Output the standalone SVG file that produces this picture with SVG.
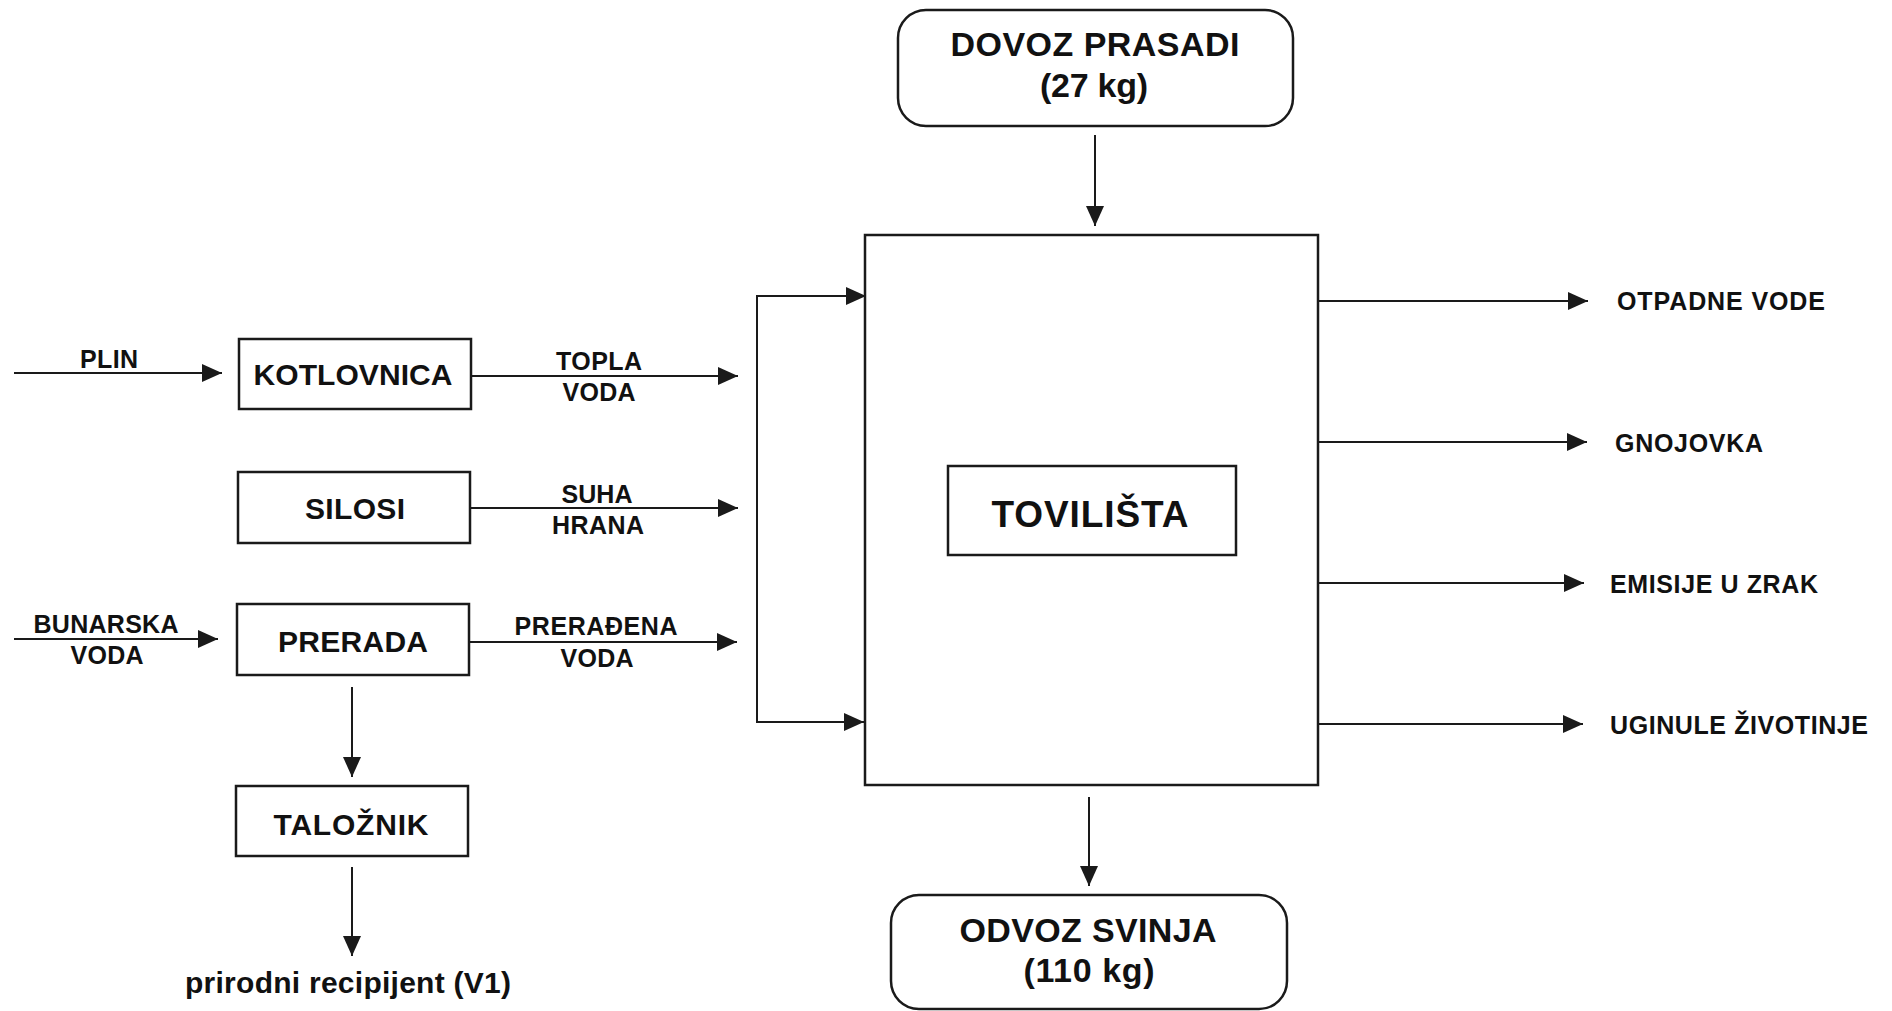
<svg xmlns="http://www.w3.org/2000/svg" width="1892" height="1011" viewBox="0 0 1892 1011">
<style>
  .box { fill: #fff; stroke: #1a1a1a; stroke-width: 2.5; }
  .ln { fill: none; stroke: #1a1a1a; stroke-width: 2; }
  .arr { fill: none; stroke: #1a1a1a; stroke-width: 2; marker-end: url(#ah); }
  text { font-family: "Liberation Sans", Arial, sans-serif; font-weight: bold; fill: #111; }
  .big { font-size: 30px; text-anchor: middle; }
  .lbl { font-size: 25px; text-anchor: middle; }
  .out { font-size: 25px; }
  .ttl { font-size: 34px; text-anchor: middle; }
</style>
<defs>
  <marker id="ah" markerUnits="userSpaceOnUse" markerWidth="20" markerHeight="18" refX="20" refY="9" orient="auto">
    <path d="M0,0 L20,9 L0,18 z" fill="#1a1a1a"/>
  </marker>
</defs>
<rect width="1892" height="1011" fill="#fff"/>

<g id="connectors">
  <line class="arr" x1="14" y1="373" x2="222" y2="373"/>
  <line class="arr" x1="14" y1="639" x2="218" y2="639"/>
  <line class="arr" x1="471" y1="376" x2="738" y2="376"/>
  <line class="arr" x1="470" y1="508" x2="738" y2="508"/>
  <line class="arr" x1="469" y1="642" x2="737" y2="642"/>
  <line class="ln" x1="757" y1="296" x2="757" y2="722"/>
  <line class="arr" x1="756" y1="296" x2="866" y2="296"/>
  <line class="arr" x1="756" y1="722" x2="864" y2="722"/>
  <line class="arr" x1="1095" y1="135" x2="1095" y2="226"/>
  <line class="arr" x1="1089" y1="797" x2="1089" y2="886"/>
  <line class="arr" x1="352" y1="687" x2="352" y2="777"/>
  <line class="arr" x1="352" y1="867" x2="352" y2="956"/>
  <line class="arr" x1="1318" y1="301" x2="1588" y2="301"/>
  <line class="arr" x1="1318" y1="442" x2="1587" y2="442"/>
  <line class="arr" x1="1318" y1="583" x2="1584" y2="583"/>
  <line class="arr" x1="1318" y1="724" x2="1583" y2="724"/>
</g>

<g id="labels">
  <text class="lbl" x="109" y="368" textLength="58">PLIN</text>
  <text class="lbl" x="106" y="633" textLength="145">BUNARSKA</text>
  <text class="lbl" x="107" y="664" textLength="73">VODA</text>
  <text class="lbl" x="599" y="370" textLength="86">TOPLA</text>
  <text class="lbl" x="599" y="401" textLength="73">VODA</text>
  <text class="lbl" x="597" y="503" textLength="71">SUHA</text>
  <text class="lbl" x="598" y="534" textLength="92">HRANA</text>
  <text class="lbl" x="596" y="635" textLength="163">PRERAĐENA</text>
  <text class="lbl" x="597" y="667" textLength="73">VODA</text>
  <text class="big" x="348" y="993" textLength="326">prirodni recipijent (V1)</text>
  <text class="out" x="1617" y="310" textLength="208">OTPADNE VODE</text>
  <text class="out" x="1615" y="452" textLength="148">GNOJOVKA</text>
  <text class="out" x="1610" y="593" textLength="208">EMISIJE U ZRAK</text>
  <text class="out" x="1610" y="734" textLength="258">UGINULE ŽIVOTINJE</text>
</g>

<g id="kotlovnica">
  <rect class="box" x="239" y="339" width="232" height="70"/>
  <text class="big" x="353" y="385" textLength="199">KOTLOVNICA</text>
</g>
<g id="silosi">
  <rect class="box" x="238" y="472" width="232" height="71"/>
  <text class="big" x="355" y="519" textLength="100">SILOSI</text>
</g>
<g id="prerada">
  <rect class="box" x="237" y="604" width="232" height="71"/>
  <text class="big" x="353" y="652" textLength="150">PRERADA</text>
</g>
<g id="taloznik">
  <rect class="box" x="236" y="786" width="232" height="70"/>
  <text class="big" x="351" y="835" textLength="155">TALOŽNIK</text>
</g>
<g id="tovilista-outer">
  <rect class="box" x="865" y="235" width="453" height="550"/>
</g>
<g id="tovilista">
  <rect class="box" x="948" y="466" width="288" height="89"/>
  <text class="ttl" x="1090" y="527" style="font-size:37px" textLength="197">TOVILIŠTA</text>
</g>
<g id="dovoz">
  <rect class="box" x="898" y="10" width="395" height="116" rx="28" ry="28"/>
  <text class="ttl" x="1095" y="56" textLength="289">DOVOZ PRASADI</text>
  <text class="ttl" x="1094" y="97" textLength="108">(27 kg)</text>
</g>
<g id="odvoz">
  <rect class="box" x="891" y="895" width="396" height="114" rx="28" ry="28"/>
  <text class="ttl" x="1088" y="942" textLength="257">ODVOZ SVINJA</text>
  <text class="ttl" x="1089" y="982" textLength="131">(110 kg)</text>
</g>
</svg>
